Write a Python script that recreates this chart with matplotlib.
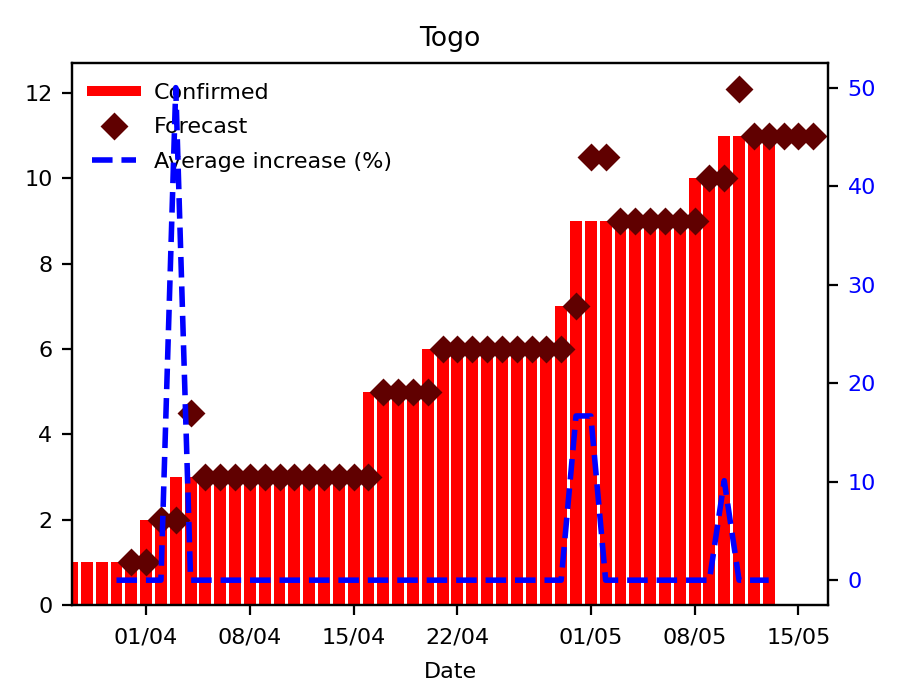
import matplotlib
matplotlib.use('Agg')
import matplotlib.pyplot as plt
import matplotlib.dates as mdates
from matplotlib.lines import Line2D
import numpy as np

plt.rcParams['font.size'] = 8

# confirmed cases, 27/03 .. 13/05
conf_dates = np.arange('2020-03-27', '2020-05-14', dtype='datetime64[D]')
confirmed = [1, 1, 1, 1, 1,
             2, 2,
             3, 3, 3, 3, 3, 3, 3, 3, 3, 3, 3, 3, 3,
             5, 5, 5, 5,
             6, 6, 6, 6, 6, 6, 6, 6, 6,
             7,
             9, 9, 9, 9, 9, 9, 9, 9,
             10, 10,
             11, 11, 11, 11]

# forecast, 31/03 .. 16/05
fc_dates = np.arange('2020-03-31', '2020-05-17', dtype='datetime64[D]')
forecast = [1, 1, 2, 2, 4.5,
            3, 3, 3, 3, 3, 3, 3, 3, 3, 3, 3, 3,
            5, 5, 5, 5,
            6, 6, 6, 6, 6, 6, 6, 6, 6,
            7, 10.5, 10.5,
            9, 9, 9, 9, 9, 9,
            10, 10, 12.1,
            11, 11, 11, 11, 11]

# average increase (%), 30/03 .. 13/05
inc_dates = np.arange('2020-03-30', '2020-05-14', dtype='datetime64[D]')
increase = [0, 0, 0, 0, 50,
            0, 0, 0, 0, 0, 0, 0, 0, 0, 0, 0, 0, 0,
            0, 0, 0, 0, 0, 0, 0, 0, 0, 0, 0, 0, 0,
            16.67, 16.67,
            0, 0, 0, 0, 0, 0, 0, 0,
            10.1, 0, 0, 0]

conf_dates = conf_dates.astype('datetime64[ms]').astype(object)
fc_dates = fc_dates.astype('datetime64[ms]').astype(object)
inc_dates = inc_dates.astype('datetime64[ms]').astype(object)

fig, ax1 = plt.subplots(figsize=(4.5, 3.5), dpi=200)
fig.subplots_adjust(left=0.08, right=0.92, top=0.91, bottom=0.136)

ax1.bar(conf_dates, confirmed, width=0.8, color='red')
ax1.plot(fc_dates, forecast, 'D', color='#600000', markersize=6)

ax2 = ax1.twinx()
ax2.plot(inc_dates, increase, 'b--', lw=2)
ax2.tick_params(axis='y', labelcolor='blue')
ax2.set_yticks([0, 10, 20, 30, 40, 50])

ax1.set_xlim(conf_dates[0], fc_dates[-1] + (fc_dates[1] - fc_dates[0]))
ax1.xaxis.set_major_locator(mdates.DayLocator(bymonthday=[1, 8, 15, 22]))
ax1.xaxis.set_major_formatter(mdates.DateFormatter('%d/%m'))
ax1.tick_params(axis='x', pad=4.5)
ax1.set_xlabel('Date', labelpad=5.5)
ax1.set_title('Togo')

handles = [Line2D([], [], color='red', lw=3.6),
           Line2D([], [], marker='D', ls='none', color='#600000', markersize=6),
           Line2D([], [], color='blue', ls='--', lw=2)]
ax1.legend(handles, ['Confirmed', 'Forecast', 'Average increase (%)'],
           loc='upper left', frameon=False, labelspacing=0.65)

plt.savefig('out.png')
